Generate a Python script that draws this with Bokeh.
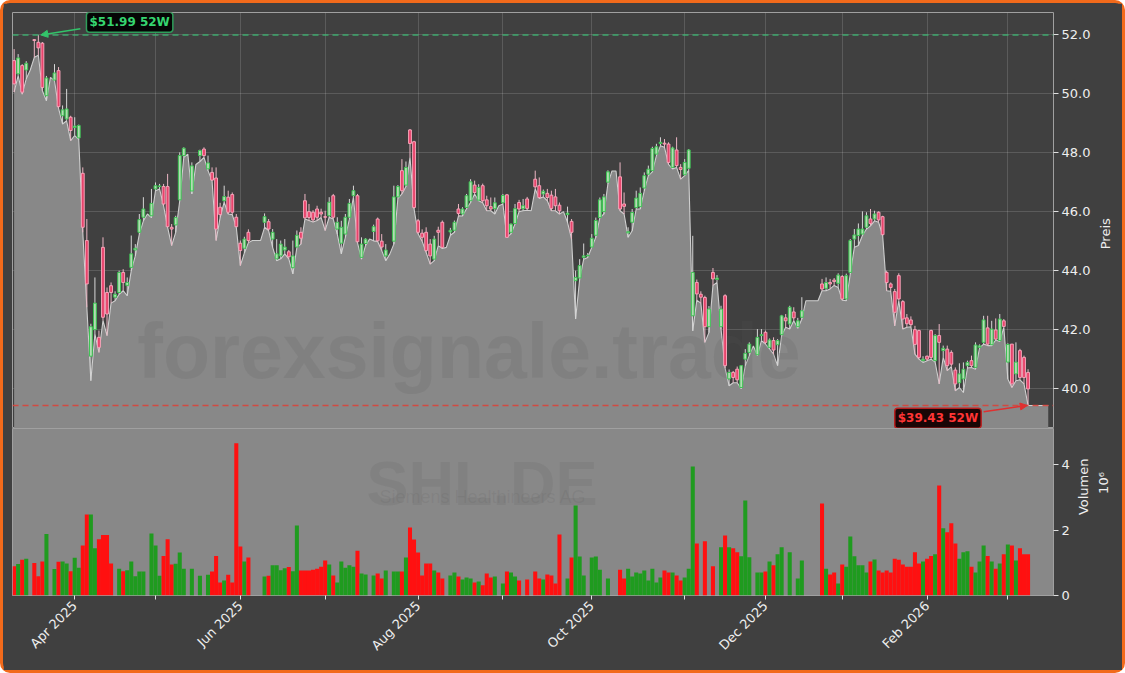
import math
import numpy as np
from bokeh.plotting import figure
from bokeh.models import (Range1d, FixedTicker, NumeralTickFormatter, Span, Label,
                          Arrow, NormalHead)
from bokeh.layouts import column, row
from bokeh.embed import file_html
from bokeh.resources import INLINE
from bokeh.core.properties import value

# ---------------- data (trading-day index 0..251, Mar 2025 - Mar 2026) ----------------
open_ = [
    51.12, 50.67, 50.95, 50.80, None, 51.83, 51.74, 51.71, 49.93, None,
    50.46, 50.78, 49.25, 49.14, 49.20, 48.85, 48.50, 47.30, 45.02, 41.10,
    42.00, 41.74, 44.79, 43.26, 43.49, 43.10, 43.26, 43.94, 43.50, 44.11,
    44.70, 45.30, 45.81, None, 45.86, 46.77, 46.85, 46.85, 46.85, 45.47,
    45.55, 46.40, 47.90, None, 46.70, None, 47.90, 48.12, 47.45, 47.33,
    47.14, 46.15, 46.37, 46.49, 46.58, 45.81, 44.93, 44.76, 45.30, None,
    None, None, 45.64, 45.66, 45.07, 44.40, 44.50, 44.70, 44.64, 44.10,
    44.80, 45.30, 46.37, 46.00, 45.98, 46.09, 45.98, 45.83, 45.86, 46.54,
    45.41, 44.93, 45.24, 45.81, 46.54, 46.54, 44.45, 44.92, None, 45.33,
    45.75, 45.00, 44.50, None, 45.00, 46.50, 47.39, 46.90, 48.77, 48.37,
    45.69, 45.27, 45.30, 44.90, 44.39, 45.37, 45.64, None, 45.31, 45.37,
    46.09, 45.92, 46.14, 46.37, 46.90, 46.39, 46.88, 46.40, 46.17, 46.10,
    None, 46.30, 46.57, 45.30, 45.60, 46.31, 46.10, 46.43, None, 47.10,
    46.88, 46.60, 46.62, 46.56, 46.50, 46.22, None, 45.90, 45.67, 43.66,
    43.75, 44.45, 44.50, 44.80, 45.20, 45.80, 46.00, 47.00, None, None,
    47.18, 46.26, 45.28, 45.64, 46.14, 46.17, 46.80, 47.27, 47.39, 47.95,
    48.31, 48.32, 48.29, 47.50, 48.09, 47.50, 47.25, 47.47, 42.47, 43.60,
    43.20, 43.09, 42.10, 43.94, 43.70, 42.10, 43.15, 40.33, 40.55, 40.66,
    40.04, 41.00, 41.23, None, 41.15, 41.80, 41.91, 41.40, 41.63, 41.49,
    41.83, 42.40, 42.19, 42.60, 42.10, 42.42, None, None, None, None,
    43.55, 43.40, 43.60, 43.68, 43.57, 43.80, 43.04, 43.94, 45.07, 45.19,
    45.24, 45.47, 45.75, 45.75, 45.98, 45.83, 43.94, 43.55, 43.29, 43.83,
    42.95, 42.40, 42.33, 42.00, 41.97, 40.95, 41.10, 41.97, 40.95, 41.80,
    41.29, 41.34, 41.23, 40.63, 40.20, 40.33, 40.78, 40.95, 40.72, 41.40,
    41.57, 42.06, 41.49, 41.99, 41.63, 42.30, 40.90, 41.51, 40.50, 41.29,
    41.06, 40.55,
]
high = [
    51.51, 51.34, 51.00, 51.10, None, 51.85, 51.99, 51.75, 50.60, None,
    51.00, 50.90, 49.60, 50.16, 49.25, 49.20, 48.95, 47.50, 45.75, 42.20,
    43.77, 41.97, 45.13, 43.43, 43.60, 43.30, 44.00, 44.05, 43.77, 45.19,
    44.90, 45.92, 46.49, None, 46.77, 46.99, 46.94, 46.94, 47.28, 45.58,
    45.86, 48.01, 48.18, None, 47.67, None, 48.10, 48.18, 47.90, 47.50,
    47.50, 46.30, 46.88, 46.71, 46.65, 45.92, 45.02, 45.15, 45.40, None,
    None, None, 45.94, 45.75, 45.41, 45.07, 45.02, 45.07, 44.70, 45.02,
    45.36, 45.47, 46.60, 46.26, 46.05, 46.20, 46.10, 46.03, 46.49, 46.60,
    45.81, 45.69, 45.92, 46.43, 46.88, 46.60, 45.13, 45.10, None, 45.56,
    45.80, 45.24, 44.90, None, 46.88, 46.90, 47.78, 47.70, 48.80, 48.40,
    45.75, 45.40, 45.47, 45.07, 45.18, 45.49, 45.70, None, 45.45, 45.70,
    46.26, 46.15, 46.60, 47.10, 47.05, 46.93, 46.95, 46.54, 46.48, 46.48,
    None, 46.60, 46.60, 45.60, 46.26, 46.40, 46.43, 46.50, None, 47.39,
    47.16, 46.75, 46.77, 46.71, 46.77, 46.31, None, 46.17, 45.75, 44.00,
    44.39, 44.92, 44.60, 45.24, 45.80, 46.48, 46.60, 47.40, None, None,
    47.67, 46.65, 45.47, 46.09, 46.71, 46.82, 47.33, 47.56, 48.20, 48.30,
    48.52, 48.46, 48.35, 48.20, 48.52, 47.61, 47.78, 48.12, 45.18, 43.70,
    43.30, 43.15, 42.80, 44.09, 43.85, 42.81, 43.20, 40.65, 40.60, 40.75,
    40.80, 41.34, 41.57, None, 42.02, 42.02, 41.97, 41.70, 41.74, 41.68,
    42.50, 42.53, 42.81, 42.76, 42.40, 43.10, None, None, None, None,
    43.72, 43.77, 43.72, 43.75, 43.91, 43.85, 43.90, 45.07, 45.41, 45.60,
    46.01, 45.98, 46.09, 46.03, 46.01, 45.86, 44.00, 43.60, 43.38, 43.91,
    43.00, 42.53, 42.45, 42.13, 42.00, 41.10, 41.12, 42.00, 41.85, 42.19,
    41.46, 41.46, 41.30, 40.72, 40.86, 40.89, 40.95, 41.12, 41.57, 41.50,
    42.47, 42.47, 42.30, 42.38, 42.53, 42.36, 41.54, 41.51, 41.57, 41.35,
    41.12, 40.66,
]
low = [
    50.05, 50.61, 49.98, 50.50, 50.80, 51.23, 51.30, 50.10, 49.76, 50.55,
    50.44, 49.50, 48.97, 49.08, 48.41, 48.58, 48.45, 45.30, 42.76, 40.27,
    41.85, 41.23, 42.31, 41.80, 42.90, 42.98, 43.20, 43.32, 43.15, 44.00,
    44.50, 45.24, 45.69, 45.92, 45.80, 46.71, 46.77, 46.20, 45.47, 44.85,
    45.30, 46.37, 47.84, 47.95, 46.60, 47.60, 47.70, 47.84, 47.39, 47.05,
    45.02, 45.80, 46.32, 45.92, 45.90, 45.47, 44.17, 44.60, 44.95, 45.02,
    45.02, 45.02, 45.47, 45.36, 44.79, 44.34, 44.40, 44.57, 44.40, 43.89,
    44.79, 44.90, 45.75, 45.70, 45.65, 45.70, 45.80, 45.36, 45.81, 45.75,
    45.24, 44.57, 45.13, 45.75, 46.49, 44.95, 44.39, 44.85, 45.07, 45.01,
    44.99, 44.68, 44.34, 44.56, 44.90, 46.45, 46.60, 46.85, 47.84, 46.10,
    45.25, 45.00, 44.62, 44.22, 44.34, 44.85, 44.75, 44.79, 45.20, 45.30,
    45.86, 45.85, 46.10, 46.31, 46.60, 46.37, 46.30, 46.03, 46.03, 45.92,
    46.20, 46.26, 45.13, 45.25, 45.58, 46.00, 46.03, 46.05, 46.03, 46.77,
    46.45, 46.50, 46.37, 46.03, 46.03, 45.92, 46.00, 45.64, 45.07, 42.36,
    43.71, 44.39, 44.45, 44.79, 45.13, 45.80, 45.92, 46.95, 47.38, 47.38,
    46.03, 45.92, 45.13, 45.35, 46.09, 46.09, 46.71, 47.22, 47.35, 47.90,
    48.23, 48.18, 47.60, 47.45, 47.50, 47.10, 47.22, 47.40, 41.96, 43.00,
    42.90, 41.57, 41.90, 43.50, 43.60, 42.02, 40.70, 40.10, 40.20, 40.20,
    40.00, 40.78, 41.12, 41.45, 41.12, 41.63, 41.51, 41.35, 41.17, 40.78,
    41.80, 42.08, 42.02, 42.30, 42.05, 42.36, 42.98, 42.98, 42.98, 42.98,
    43.32, 43.32, 43.38, 43.50, 43.43, 43.00, 42.98, 43.89, 44.79, 44.85,
    45.19, 45.41, 45.52, 45.69, 45.64, 45.20, 43.32, 43.30, 42.13, 42.98,
    42.02, 42.08, 42.10, 41.17, 41.00, 40.89, 40.95, 41.00, 40.90, 40.16,
    41.06, 40.61, 40.75, 39.93, 40.04, 39.87, 40.70, 40.72, 40.66, 41.38,
    41.51, 41.46, 41.46, 41.65, 41.60, 42.08, 40.33, 40.04, 40.27, 40.30,
    40.16, 39.43,
]
close = [
    50.33, 51.21, 50.05, 51.03, None, 51.80, 51.55, 50.21, 50.53, None,
    50.70, 49.56, 49.45, 49.48, 48.75, 48.90, 48.92, 45.47, 43.55, 42.10,
    42.90, 41.40, 42.42, 42.53, 43.26, 43.20, 43.94, 43.60, 43.60, 44.57,
    44.76, 45.73, 46.09, None, 46.28, 46.88, 46.87, 46.26, 45.49, 45.41,
    45.80, 47.90, 48.15, None, 47.55, None, 48.07, 47.90, 47.65, 47.07,
    45.41, 45.90, 46.51, 45.98, 45.98, 45.49, 44.68, 45.07, 45.02, None,
    None, None, 45.83, 45.41, 45.30, 44.57, 44.90, 44.80, 44.47, 44.50,
    45.20, 45.10, 45.79, 45.80, 45.72, 45.81, 45.92, 45.81, 46.32, 45.81,
    45.64, 45.47, 45.81, 46.28, 46.71, 44.98, 44.90, 45.07, None, 45.49,
    45.01, 44.80, 44.70, None, 46.50, 46.85, 46.71, 47.50, 48.31, 46.14,
    45.30, 45.13, 44.68, 44.50, 45.07, 45.30, 44.79, None, 45.37, 45.64,
    45.94, 46.09, 46.54, 47.01, 46.65, 46.82, 46.37, 46.20, 46.09, 46.30,
    None, 46.55, 45.13, 45.58, 46.10, 46.09, 46.20, 46.11, None, 46.84,
    46.48, 46.69, 46.48, 46.11, 46.20, 46.03, None, 45.95, 45.30, 43.77,
    44.17, 44.50, 44.52, 45.10, 45.70, 46.40, 46.50, 47.35, None, None,
    46.09, 46.18, 45.32, 45.97, 46.46, 46.62, 47.22, 47.44, 48.14, 48.20,
    48.35, 48.29, 47.67, 48.16, 47.56, 47.43, 47.67, 48.09, 43.94, 43.21,
    43.10, 42.10, 42.70, 43.72, 43.75, 42.70, 40.78, 40.55, 40.38, 40.30,
    40.78, 41.20, 41.51, None, 41.74, 41.83, 41.57, 41.65, 41.31, 41.63,
    42.47, 42.30, 42.76, 42.40, 42.30, 42.64, None, None, None, None,
    43.38, 43.60, 43.55, 43.63, 43.85, 43.04, 43.83, 45.02, 45.21, 45.41,
    45.41, 45.86, 45.60, 45.92, 45.72, 45.22, 43.60, 43.43, 42.59, 43.04,
    42.36, 42.20, 42.17, 41.50, 41.06, 41.00, 41.00, 41.06, 41.80, 41.57,
    41.37, 40.78, 40.83, 40.16, 40.50, 40.66, 40.89, 40.78, 41.48, 41.45,
    42.33, 41.51, 42.02, 41.68, 42.36, 42.11, 41.50, 40.16, 40.90, 40.38,
    40.38, 39.99,
]
volume_m = [
    0.89, 0.96, 1.09, 1.12, None, 0.99, 0.59, 1.04, 1.88, None,
    0.81, 1.03, 1.04, 0.98, 0.74, 1.15, 0.85, 1.53, 2.47, 2.47,
    1.44, 1.72, 1.85, 1.85, 0.98, None, 0.82, 0.74, 0.77, 1.04,
    0.59, 0.73, 0.73, None, 1.89, 1.53, 0.60, 1.21, 1.72, 0.95,
    0.97, 1.31, 0.82, None, 0.82, None, 0.60, None, 0.63, 0.73,
    1.21, 0.40, 0.46, 0.63, 0.40, 4.65, 1.50, 1.04, 1.16, None,
    None, None, 0.58, 0.60, 0.92, 0.92, 0.77, 0.83, 0.87, 0.74,
    2.14, 0.76, 0.76, 0.76, 0.79, 0.82, 0.88, 1.07, 0.95, 0.61,
    0.40, 1.04, 0.85, 0.92, 0.88, 1.37, 0.67, 0.64, None, 0.61,
    0.67, 0.52, 0.76, None, 0.73, 0.73, 0.73, 1.16, 2.08, 1.71,
    1.31, 0.61, 0.98, 0.98, 0.76, 0.70, 0.52, None, 0.61, 0.70,
    0.58, 0.49, 0.55, 0.52, 0.40, 0.43, 0.31, 0.67, 0.55, 0.58,
    None, 0.37, 0.73, 0.70, 0.58, 0.46, None, 0.49, None, 0.73,
    0.52, 0.49, 0.64, 0.61, 0.37, 1.86, None, 0.52, 1.16, 2.75,
    1.19, 0.61, None, 1.16, 1.19, 0.79, None, 0.52, None, None,
    0.79, 0.52, 0.82, 0.58, 0.70, 0.67, 0.76, 0.46, 0.82, 0.40,
    0.55, 0.76, 0.70, 0.70, 0.61, 0.46, 0.55, 0.82, 3.94, 1.59,
    None, 1.66, None, 0.89, None, 1.47, 1.83, 1.47, 1.44, 1.32,
    1.20, 2.90, 1.17, None, 0.70, 0.70, 0.73, 1.04, 0.92, 1.26,
    1.47, None, 1.32, None, 0.52, 1.07, None, None, None, None,
    2.81, 0.82, 0.64, 0.70, 0.37, 0.95, 0.88, 1.80, 1.20, 0.92,
    0.92, 0.70, 1.04, 1.10, 0.76, 0.70, 0.76, 0.70, 1.12, 1.09,
    0.95, 0.88, 0.88, 1.32, 0.98, 1.04, 1.12, 1.21, 1.26, 3.36,
    2.05, 1.93, 2.21, 1.59, 1.12, 1.32, 1.35, 0.88, 0.70, 1.04,
    1.53, 1.21, 1.04, 0.82, 0.98, 1.26, 1.56, 1.53, 1.07, 1.44,
    1.26, 1.26,
]
# month starts (trading-day index) and their labels
month_idx = [15, 35, 56, 77, 100, 121, 143, 166, 186, 205, 226, 246]
month_labels = ["Apr 2025", "", "Jun 2025", "", "Aug 2025", "", "Oct 2025", "",
                "Dec 2025", "", "Feb 2026", ""]
price_ticks = [40, 42, 44, 46, 48, 50, 52]
volume_ticks = [0, 2, 4]

# ---------------- styling ----------------
BG = "#404040"
AREA = "#888888"
TXT = "#eeeeee"
UP_FILL, UP_LINE = "#b4dcb4", "#3cc452"
DN_FILL, DN_LINE = "#e8436b", "#f5a3b8"
VOL_UP, VOL_DN = "#1f9b1f", "#ff1010"
FONT = "DejaVu Sans"

o = np.array(open_, dtype=float)
h = np.array(high, dtype=float)
l = np.array(low, dtype=float)
c = np.array(close, dtype=float)
vol = np.array(volume_m, dtype=float)
N = len(l)
idx = np.arange(N)
up = c >= o

hi52 = float(np.nanmax(h))
lo52 = float(np.nanmin(l))
i_hi = int(np.nanargmax(h))
i_lo = int(np.nanargmin(l))

# geometry (px)
FW, PH, VH = 1041, 416, 167
LB, TB, VB = 9, 9, 75          # left border, top border, bottom border of volume
P_RB, V_RB = 43, 22            # right borders holding the tick labels
TOTAL_W = 1119                 # inside the 3px orange frame
P_SIDE = TOTAL_W - (LB + FW + P_RB)
V_SIDE = TOTAL_W - (LB + FW + V_RB)

x_range = Range1d(-0.4, 257.3)
p_range = Range1d(38.65, 52.75)
v_range = Range1d(0, 5.1)
x0, x1 = x_range.start, x_range.end
px_per_x = FW / (x1 - x0)


def xs(px_from_frame_left):
    return x0 + px_from_frame_left / px_per_x


# ---------------- price panel ----------------
p = figure(frame_width=FW, frame_height=PH, x_range=x_range, y_range=p_range,
           output_backend="svg", toolbar_location=None,
           x_axis_location=None, y_axis_location="right",
           min_border_left=LB, min_border_top=TB, min_border_bottom=0, min_border_right=P_RB,
           background_fill_color=BG, border_fill_color=BG,
           outline_line_color="#a0a0a0", outline_line_width=1)

p.xgrid.ticker = FixedTicker(ticks=month_idx)
p.ygrid.ticker = FixedTicker(ticks=price_ticks)
for g in (p.xgrid, p.ygrid):
    g.grid_line_color = "#ffffff"
    g.grid_line_alpha = 0.14
    g.grid_line_width = 1

# area under the lows, extended to the right edge at the last value
area_x = list(idx) + [256]
area_y = list(l) + [l[-1]]
p.varea(x=area_x, y1=area_y, y2=30, fill_color=AREA, fill_alpha=1.0)
p.line(x=area_x, y=area_y, line_color="#cfcfcf", line_width=1.1)

# watermark (drawn below candles)
p.text(x=[xs(456.5)], y=[41.29], text=["forexsignale.trade"],
       text_font=value("Liberation Sans"), text_font_style="bold",
       text_font_size="77px", text_color="#555555", text_alpha=0.14,
       text_align="center", text_baseline="alphabetic")

# candles
wick_col = np.where(up, "#d6d6d6", "#ecb6c4")
p.segment(x0=idx, y0=l, x1=idx, y1=h, line_color=list(wick_col), line_width=1)
p.vbar(x=idx, bottom=np.minimum(o, c), top=np.maximum(o, c), width=0.7,
       fill_color=list(np.where(up, UP_FILL, DN_FILL)),
       line_color=list(np.where(up, UP_LINE, DN_LINE)), line_width=1)

# 52-week lines
p.add_layout(Span(location=hi52, dimension="width", line_color="#3cb371",
                  line_dash="6 4", line_width=1.5, line_alpha=0.9))
p.add_layout(Span(location=lo52, dimension="width", line_color="#d9443a",
                  line_dash="6 4", line_width=1.5, line_alpha=0.9))

# 52W labels + arrows
p.add_layout(Arrow(end=NormalHead(size=7, fill_color="#33c46a", line_color="#33c46a"),
                   x_start=i_hi + 10.4, y_start=hi52 + 0.21, x_end=i_hi + 0.6, y_end=hi52,
                   line_color="#33c46a", line_width=1.5))
p.add_layout(Label(x=i_hi + 22.6, y=hi52 + 0.43, text=f"${hi52:.2f} 52W",
                   text_font=FONT, text_font_style="bold", text_font_size="12px",
                   text_color="#35d46f", text_align="center", text_baseline="middle",
                   background_fill_color="#050505", background_fill_alpha=1.0,
                   border_line_color="#2e9e5a", border_line_width=1.5,
                   padding=3, border_radius=3))
p.add_layout(Arrow(end=NormalHead(size=7, fill_color="#e03030", line_color="#e03030"),
                   x_start=i_lo - 11.0, y_start=lo52 - 0.21, x_end=i_lo - 0.2, y_end=lo52,
                   line_color="#e03030", line_width=1.5))
p.add_layout(Label(x=i_lo - 22.3, y=lo52 - 0.43, text=f"${lo52:.2f} 52W",
                   text_font=FONT, text_font_style="bold", text_font_size="12px",
                   text_color="#ff3535", text_align="center", text_baseline="middle",
                   background_fill_color="#1a0606", background_fill_alpha=1.0,
                   border_line_color="#b82020", border_line_width=1.5,
                   padding=3, border_radius=3))

# ---------------- volume panel ----------------
v = figure(frame_width=FW, frame_height=VH, x_range=x_range, y_range=v_range,
           output_backend="svg", toolbar_location=None, y_axis_location="right",
           min_border_left=LB, min_border_top=0, min_border_bottom=VB, min_border_right=V_RB,
           background_fill_color=AREA, border_fill_color=BG,
           outline_line_color="#a0a0a0", outline_line_width=1)
v.xgrid.grid_line_color = None
v.ygrid.grid_line_color = None

v.text(x=[xs(469.5)], y=[3.45], text=["SHL.DE"],
       text_font=value("Liberation Sans"), text_font_style="bold",
       text_font_size="63px", text_color="#555555", text_alpha=0.13,
       text_align="center", text_baseline="alphabetic")
v.text(x=[xs(470.5)], y=[3.02], text=["Siemens Healthineers AG"],
       text_font=value("Liberation Sans"), text_font_size="18px",
       text_color="#555555", text_alpha=0.13,
       text_align="center", text_baseline="alphabetic")

v.vbar(x=idx, top=vol, bottom=0, width=1.0,
       fill_color=list(np.where(up, VOL_UP, VOL_DN)), line_color=None)

v.xaxis.ticker = FixedTicker(ticks=month_idx)
v.xaxis.major_label_overrides = {k: lab for k, lab in zip(month_idx, month_labels)}
v.xaxis.major_label_orientation = math.pi / 4
v.xaxis.axis_line_color = None
v.xaxis.major_tick_line_color = "#e0e0e0"
v.xaxis.major_tick_out = 4
v.xaxis.major_tick_in = 0
v.xaxis.minor_tick_line_color = None
v.xaxis.major_label_text_color = TXT
v.xaxis.major_label_text_font = FONT
v.xaxis.major_label_text_font_size = "13px"
v.xaxis.major_label_standoff = 4

p.yaxis.ticker = FixedTicker(ticks=price_ticks)
p.yaxis.formatter = NumeralTickFormatter(format="0.0")
v.yaxis.ticker = FixedTicker(ticks=volume_ticks)

for ax in (p.yaxis[0], v.yaxis[0]):
    ax.axis_line_color = None
    ax.major_tick_line_color = "#e0e0e0"
    ax.major_tick_out = 5
    ax.major_tick_in = 0
    ax.minor_tick_line_color = None
    ax.major_label_text_color = TXT
    ax.major_label_text_font = FONT
    ax.major_label_text_font_size = "13px"
    ax.major_label_standoff = 3


# ---------------- axis titles (read bottom-to-top) in narrow side panels ----------------
def side_panel(w, hgt):
    s = figure(width=w, height=hgt, x_range=Range1d(0, w), y_range=Range1d(0, hgt),
               output_backend="svg", toolbar_location=None,
               x_axis_location=None, y_axis_location=None, min_border=0,
               background_fill_color=BG, border_fill_color=BG, outline_line_color=None)
    s.xgrid.grid_line_color = None
    s.ygrid.grid_line_color = None
    return s


P_H = TB + PH
V_H = VH + VB
ps = side_panel(P_SIDE, P_H)
ps.text(x=[9], y=[P_H - 226], text=["Preis"], angle=math.pi / 2,
        text_font=value(FONT), text_font_size="13px", text_color=TXT,
        text_align="center", text_baseline="middle")
vs = side_panel(V_SIDE, V_H)
vs.text(x=[8, 28], y=[V_H - 84.5, V_H - 79], text=["Volumen", "10\u2076"], angle=math.pi / 2,
        text_font=value(FONT), text_font_size="13px", text_color=TXT,
        text_align="center", text_baseline="middle")

layout = column(row(p, ps, spacing=0), row(v, vs, spacing=0), spacing=0,
                styles={"border": "3px solid #f26a1b", "border-radius": "10px",
                        "background-color": BG})

open("out.html", "w").write(file_html(layout, INLINE))
